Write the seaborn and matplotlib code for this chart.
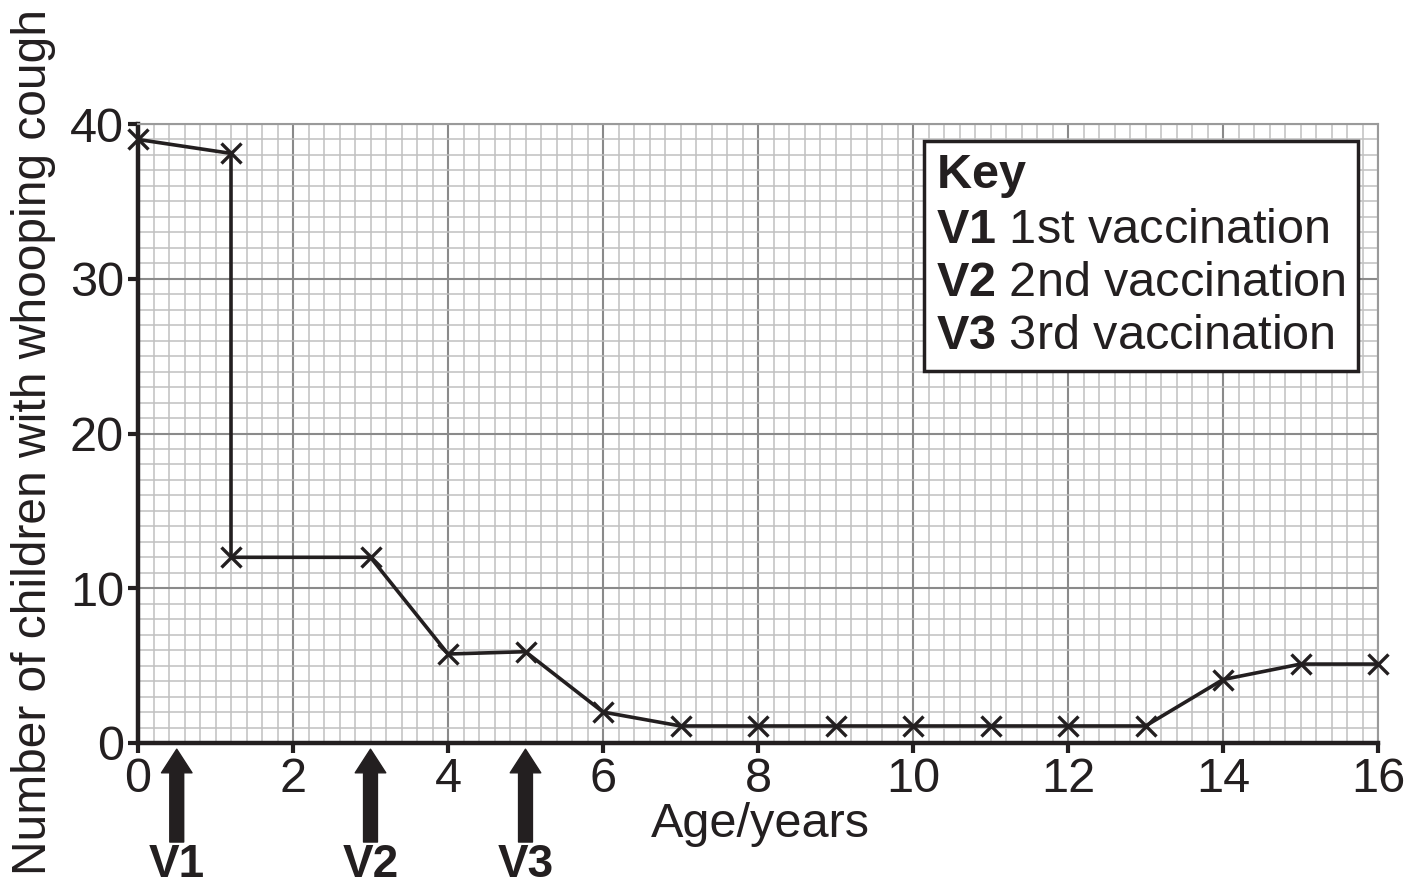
import numpy as np
import pandas as pd
import seaborn as sns
from matplotlib import pyplot as plt
from matplotlib.ticker import MultipleLocator
from matplotlib.lines import Line2D


## DATA

age = [0, 1.2, 1.2, 3, 4, 5, 6, 7, 8, 9, 10, 11, 12, 13, 14, 15, 16]
cases = [39, 38.1, 12, 12, 5.75, 5.9, 2, 1.1, 1.1, 1.1, 1.1, 1.1, 1.1, 1.1, 4.1, 5.1, 5.1]

vacc_labels = ['V1', 'V2', 'V3']
vacc_age = [0.5, 3, 5]
vacc_names = ['1st vaccination', '2nd vaccination', '3rd vaccination']

xticks = list(range(0, 17, 2))
yticks = [0, 10, 20, 30, 40]

df = pd.DataFrame({'Age': age, 'Cases': cases})


## STYLE

sns.set_theme(style='white')
plt.rcParams['font.family'] = ['Liberation Sans', 'DejaVu Sans']
plt.rcParams['mathtext.fontset'] = 'custom'
plt.rcParams['mathtext.rm'] = 'Liberation Sans'
plt.rcParams['mathtext.bf'] = 'Liberation Sans:bold'

fig = plt.figure(figsize=(14.19, 8.91), dpi=100)
ax = fig.add_axes([138/1419, 1 - 743/891, 1240/1419, 619/891])


## GRID

ax.set_xlim(0, 16)
ax.set_ylim(0, 40)
ax.xaxis.set_major_locator(MultipleLocator(2))
ax.yaxis.set_major_locator(MultipleLocator(10))
ax.xaxis.set_minor_locator(MultipleLocator(0.2))
ax.yaxis.set_minor_locator(MultipleLocator(1))
ax.grid(which='minor', color='#c0c0c0', linewidth=1.1)
ax.grid(which='major', color='#8a8a8a', linewidth=1.5)
ax.set_axisbelow(True)


## LINE

sns.lineplot(data=df, x='Age', y='Cases', estimator=None, sort=False, ax=ax,
             color='#231f20', linewidth=2.6, marker='x', markersize=14,
             markeredgewidth=2.4, markeredgecolor='#231f20', clip_on=False, zorder=5)


## AXES

for s in ['left', 'bottom']:
    ax.spines[s].set_linewidth(3.2)
    ax.spines[s].set_color('#231f20')
for s in ['top', 'right']:
    ax.spines[s].set_linewidth(1.5)
    ax.spines[s].set_color('#9a9a9a')

ax.set_xticks(xticks)
ax.set_yticks(yticks)
ax.tick_params(which='major', direction='out', length=7, width=3, color='#231f20',
               labelsize=35, labelcolor='#231f20', pad=3, bottom=True, left=True)
ax.tick_params(which='minor', length=0)

ax.set_xlabel('Age/years', fontsize=35, color='#231f20')
ax.xaxis.set_label_coords(0.502, -0.095)
ax.set_ylabel('Number of children with whooping cough', fontsize=34.5, color='#231f20')
ax.yaxis.set_label_coords(-0.066, 0.487)


## ARROWS V1 V2 V3

for lab, xv in zip(vacc_labels, vacc_age):
    ax.annotate('', xy=(xv, -0.01), xytext=(xv, -0.16),
                xycoords=('data', 'axes fraction'), textcoords=('data', 'axes fraction'),
                arrowprops=dict(arrowstyle='simple, head_width=1.1, head_length=0.85, tail_width=0.5',
                                mutation_scale=20, color='#231f20', shrinkA=0, shrinkB=0),
                annotation_clip=False)
    ax.text(xv, -0.217, lab, transform=ax.get_xaxis_transform(), ha='center', va='baseline',
            fontsize=33, fontweight='bold', color='#231f20', clip_on=False)


## KEY

handles = [Line2D([], [], linestyle='none') for i in range(4)]
labels = [r'$\bf{Key}$'] + [r'$\bf{' + v + '}$ ' + n for v, n in zip(vacc_labels, vacc_names)]
leg = ax.legend(handles, labels, loc='upper right', bbox_to_anchor=(0.984, 0.972),
                handlelength=0, handletextpad=0, fontsize=35, frameon=True, fancybox=False,
                framealpha=1, borderpad=0.25, labelspacing=0.16, borderaxespad=0)
leg.get_frame().set_edgecolor('#231f20')
leg.get_frame().set_linewidth(2.5)
for t in leg.get_texts():
    t.set_color('#231f20')

plt.savefig('out.png', dpi=100)
